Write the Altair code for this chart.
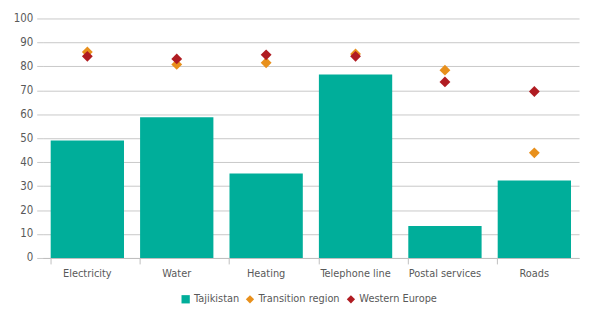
import altair as alt
import pandas as pd

categories = ["Electricity", "Water", "Heating", "Telephone line", "Postal services", "Roads"]
tajikistan = [49, 58.7, 35.3, 76.6, 13.3, 32.3]
transition = [86, 80.8, 81.5, 85.2, 78.4, 43.9]
western = [84.2, 83.1, 84.8, 84.2, 73.5, 69.5]
series_names = ["Tajikistan", "Transition region", "Western Europe"]
colors = ["#00AE9A", "#E8901C", "#B01C22"]

rows = []
for i, c in enumerate(categories):
    rows.append({"cat": c, "series": series_names[0], "value": tajikistan[i]})
    rows.append({"cat": c, "series": series_names[1], "value": transition[i]})
    rows.append({"cat": c, "series": series_names[2], "value": western[i]})
df = pd.DataFrame(rows)

FONT = "DejaVu Sans Condensed, Liberation Sans Narrow, Arial Narrow, sans-serif"

color_scale = alt.Scale(domain=series_names, range=colors)
shape_scale = alt.Scale(domain=series_names, range=["square", "diamond", "diamond"])

x = alt.X("cat:N", sort=categories, title=None,
          scale=alt.Scale(paddingInner=0.18, paddingOuter=0.09),
          axis=alt.Axis(labelAngle=0, domainColor="#bfbfbf", tickColor="#bfbfbf",
                        tickSize=6, bandPosition=0, labelPadding=4,
                        labelColor="#595959", labelFontSize=11, labelFont=FONT))
y = alt.Y("value:Q", title=None,
          scale=alt.Scale(domain=[0, 100], nice=False),
          axis=alt.Axis(values=list(range(0, 101, 10)), domain=False, tickColor="#c8c8c8",
                        tickSize=6, gridColor="#c8c8c8", labelPadding=4,
                        labelColor="#595959", labelFontSize=11.5, labelFont=FONT))

bars = alt.Chart(df).transform_filter(alt.datum.series == "Tajikistan").mark_bar().encode(
    x=x, y=y,
    color=alt.Color("series:N", scale=color_scale, title=None),
)

points = alt.Chart(df).transform_filter(alt.datum.series != "Tajikistan").mark_point(
    filled=True, size=120, opacity=1
).encode(
    x=x, y=y,
    color=alt.Color("series:N", scale=color_scale, title=None),
    shape=alt.Shape("series:N", scale=shape_scale, title=None),
)

chart = alt.layer(bars, points).properties(
    width=542, height=242,
    autosize=alt.AutoSizeParams(type="none"),
    padding={"left": 35, "top": 9, "right": 5, "bottom": 50},
).configure_legend(
    orient="none", legendX=139, legendY=278, direction="horizontal",
    labelFont=FONT, labelFontSize=11, labelOffset=3,
    labelColor="#595959", symbolSize=70, columnPadding=5,
    symbolStrokeWidth=0,
).configure_view(stroke=None)

chart.save("out.html", embed_options={"renderer": "svg", "actions": False})
